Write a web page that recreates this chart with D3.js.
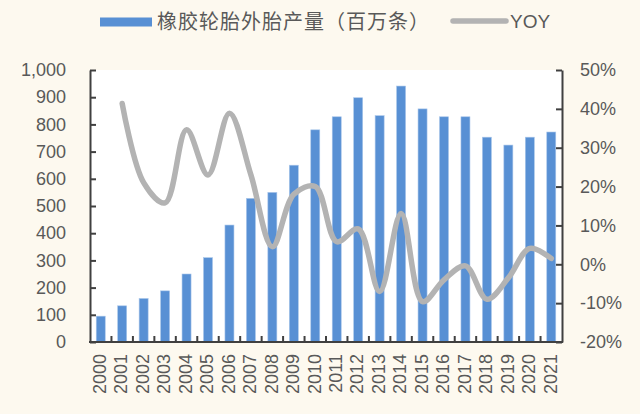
<!DOCTYPE html>
<html>
<head>
<meta charset="utf-8">
<script src="https://cdn.jsdelivr.net/npm/d3@7"></script>
<style>
  html, body { margin: 0; padding: 0; background: #fdf9ef; }
  svg { display: block; }
  text { font-family: "Liberation Sans", Arial, sans-serif; fill: #595959; }
</style>
</head>
<body>
<div id="chart"></div>
<script>
// data
const years = ["2000","2001","2002","2003","2004","2005","2006","2007","2008","2009","2010",
               "2011","2012","2013","2014","2015","2016","2017","2018","2019","2020","2021"];
const output = [95, 133, 160, 188, 250, 310, 430, 528, 550, 650, 780,
                828, 898, 832, 941, 857, 828, 828, 753, 724, 753, 772];
const yoy = [null, 41.4, 21, 15.8, 34.6, 23, 38.9, 23, 4.5, 18, 20,
             5.8, 9.1, -7, 13.1, -9.6, -4, -0.4, -9, -3.5, 4.1, 1.5];
const leftTicks = [0, 100, 200, 300, 400, 500, 600, 700, 800, 900, 1000];
const rightTicks = [-20, -10, 0, 10, 20, 30, 40, 50];

const width = 640, height = 414;
const margin = { left: 90, right: 78, top: 70, bottom: 72 };

const svg = d3.select("#chart")
    .append("svg")
    .attr("width", width)
    .attr("height", height);

const x = d3.scaleBand()
    .domain(years)
    .range([margin.left, width - margin.right])
    .paddingInner(0.58)
    .paddingOuter(0.29);

const yLeft = d3.scaleLinear().domain([0, 1000]).range([height - margin.bottom, margin.top]);
const yRight = d3.scaleLinear().domain([-20, 50]).range([height - margin.bottom, margin.top]);

// white plot area
svg.append("rect")
    .attr("x", margin.left)
    .attr("y", margin.top)
    .attr("width", width - margin.left - margin.right)
    .attr("height", height - margin.top - margin.bottom)
    .attr("fill", "#ffffff");

// bars
svg.append("g")
    .selectAll("rect")
    .data(years)
    .join("rect")
    .attr("x", d => x(d))
    .attr("y", (d, i) => yLeft(output[i]))
    .attr("width", x.bandwidth())
    .attr("height", (d, i) => yLeft(0) - yLeft(output[i]))
    .attr("fill", "#5890d4")
    .attr("stroke", "#a9c6ea")
    .attr("stroke-width", 0.6);

// YOY line
const line = d3.line()
    .defined(d => d[1] !== null)
    .x(d => x(d[0]) + x.bandwidth() / 2)
    .y(d => yRight(d[1]))
    .curve(d3.curveCatmullRom.alpha(0.5));

svg.append("path")
    .datum(years.map((d, i) => [d, yoy[i]]))
    .attr("d", line)
    .attr("fill", "none")
    .attr("stroke", "#b3b3b3")
    .attr("stroke-width", 5.5)
    .attr("stroke-linecap", "round")
    .attr("stroke-linejoin", "round");

// axes
const axisColor = "#404040";

const leftAxis = svg.append("g")
    .attr("transform", `translate(${margin.left},0)`)
    .call(d3.axisLeft(yLeft).tickValues(leftTicks).tickSizeInner(-6).tickSizeOuter(0)
        .tickPadding(24).tickFormat(d3.format(",")));

const rightAxis = svg.append("g")
    .attr("transform", `translate(${width - margin.right},0)`)
    .call(d3.axisRight(yRight).tickValues(rightTicks).tickSizeInner(-6).tickSizeOuter(0)
        .tickPadding(24).tickFormat(d => d + "%"));

[leftAxis, rightAxis].forEach(a => {
    a.select(".domain").attr("stroke", axisColor).attr("stroke-width", 2);
    a.selectAll(".tick line").attr("stroke", axisColor).attr("stroke-width", 2);
    a.selectAll(".tick text").style("font-size", "18px").attr("fill", "#595959");
});
rightAxis.selectAll(".tick text").attr("x", 18);

// x axis: ticks between categories
const xAxis = svg.append("g")
    .attr("transform", `translate(0,${height - margin.bottom})`);

xAxis.append("line")
    .attr("x1", margin.left - 1)
    .attr("x2", width - margin.right + 1)
    .attr("stroke", axisColor)
    .attr("stroke-width", 2);

const step = x.step();
xAxis.selectAll(".sep")
    .data(years.slice(1))
    .join("line")
    .attr("class", "sep")
    .attr("x1", d => x(d) - step * x.paddingInner() / 2)
    .attr("x2", d => x(d) - step * x.paddingInner() / 2)
    .attr("y1", 0)
    .attr("y2", -6)
    .attr("stroke", axisColor)
    .attr("stroke-width", 2);

xAxis.selectAll(".year")
    .data(years)
    .join("text")
    .attr("class", "year")
    .attr("transform", d => `translate(${x(d) + x.bandwidth() / 2 - 1},12) rotate(-90)`)
    .attr("text-anchor", "end")
    .attr("dy", "0.35em")
    .style("font-size", "18px")
    .text(d => d);

// legend
const legend = svg.append("g");

legend.append("rect")
    .attr("x", 100)
    .attr("y", 17.5)
    .attr("width", 52)
    .attr("height", 9)
    .attr("fill", "#5890d4");

legend.append("text")
    .attr("x", 157)
    .attr("y", 22)
    .attr("dy", "0.36em")
    .style("font-family", "'Noto Sans CJK SC', sans-serif")
    .style("font-size", "20px")
    .style("letter-spacing", "1px")
    .text("橡胶轮胎外胎产量（百万条）");

legend.append("line")
    .attr("x1", 453)
    .attr("x2", 506)
    .attr("y1", 21)
    .attr("y2", 21)
    .attr("stroke", "#b3b3b3")
    .attr("stroke-width", 5.5)
    .attr("stroke-linecap", "round");

legend.append("text")
    .attr("x", 510)
    .attr("y", 21)
    .attr("dy", "0.36em")
    .style("font-size", "19px")
    .text("YOY");
</script>
</body>
</html>
